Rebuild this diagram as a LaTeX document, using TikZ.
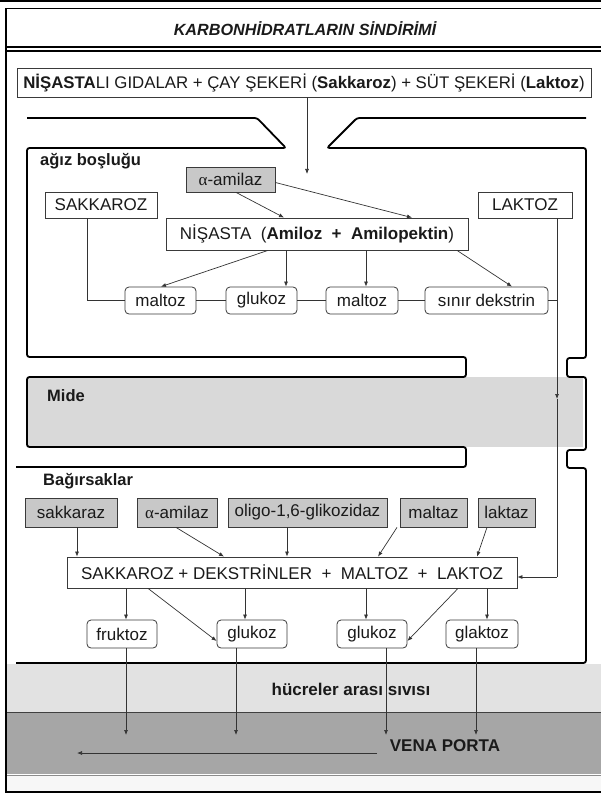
\documentclass[tikz,border=0pt]{standalone}
\usepackage{fontspec}
\setmainfont{Liberation Sans}
\newfontfamily\grk{Liberation Serif}
\usetikzlibrary{arrows.meta}
\definecolor{boxc}{HTML}{3A3A3A}
\definecolor{linec}{HTML}{333333}
\definecolor{txt}{HTML}{1A1A1A}
\definecolor{gfill}{HTML}{C8C8C8}
\definecolor{midec}{HTML}{D9D9D9}
\definecolor{lightband}{HTML}{E2E2E2}
\definecolor{darkband}{HTML}{A6A6A6}
\definecolor{stripc}{HTML}{F7F7F7}
\begin{document}
\begin{tikzpicture}[x=1pt,y=-1pt,
  font=\fontsize{17}{20}\selectfont,
  bx/.style={draw=boxc, line width=0.8pt, fill=white, inner sep=0pt, text=txt},
  gbx/.style={bx, fill=gfill},
  rbx/.style={bx, rounded corners=4pt},
  wall/.style={line width=1.8pt, rounded corners=2.5pt, draw=black},
  arr/.style={draw=linec, line width=0.7pt, -{Latex[length=5pt,width=4pt]}},
  ln/.style={draw=linec, line width=0.7pt},
  lbl/.style={font=\fontsize{16.5}{19}\selectfont\bfseries, text=txt, inner sep=0pt}]
\useasboundingbox (0,0) rectangle (601,794);
% backgrounds
\fill[midec] (27,377) rectangle (583,447);
\fill[lightband] (6,664) rectangle (601,712);
\fill[darkband] (6,712) rectangle (601,774);
\fill[stripc] (6,776) rectangle (601,791);
\draw[black!75, line width=1pt] (6,712) -- (601,712);
\draw[black!45, line width=0.8pt] (6,775.5) -- (601,775.5);
% frame
\draw[line width=2pt] (0,1) -- (601,1);
\draw[line width=1.7pt] (601,8.5) -- (6,8.5) -- (6,792) -- (601,792);
\draw[line width=1.2pt] (6,47) -- (601,47);
\draw[line width=1.2pt] (6,51) -- (601,51);
\node[font=\fontsize{16.2}{19}\selectfont\bfseries\itshape, text=txt] (title) at (305,29) {KARBONHİDRATLARIN SİNDİRİMİ};
% food box
\node[bx, minimum width=574pt, minimum height=29pt, font=\fontsize{16.8}{20}\selectfont] (food) at (304,82.5)
  {\textbf{NİŞASTA}LI GIDALAR + ÇAY ŞEKERİ (\textbf{Sakkaroz}) + SÜT ŞEKERİ (\textbf{Laktoz})};
\coordinate (mouthin) at (307,174);
\draw[arr] (food.south -| mouthin) -- (mouthin);
% walls
\draw[wall] (27,118) -- (257,118) -- (286,148) -- (27,148) -- (27,357) -- (466,357) -- (466,377)
  -- (27,377) -- (27,447) -- (466,447) -- (466,467) -- (16,467);
\draw[wall] (586,118) -- (357,118) -- (327,148) -- (586,148) -- (586,358) -- (567,358) -- (567,377)
  -- (586,377) -- (586,450) -- (567,450) -- (567,468) -- (586,468) -- (586,663) -- (16,663);
% labels
\node[lbl, anchor=west] (agiz) at (40,161) {ağız boşluğu};
\node[lbl, anchor=west] (mide) at (47,396) {Mide};
\node[lbl, anchor=west] (bag) at (43,481) {Bağırsaklar};
\node[lbl, font=\fontsize{17}{20}\selectfont\bfseries] (hucre) at (351,689) {hücreler arası sıvısı};
\node[lbl, font=\fontsize{17}{20}\selectfont\bfseries] (vena) at (445,746) {VENA PORTA};
% mouth nodes
\node[gbx, minimum width=89pt, minimum height=25pt] (amilA) at (230.5,179.5) {{\grk α}-amilaz};
\node[bx, minimum width=112pt, minimum height=26pt] (sakA) at (101,205) {SAKKAROZ};
\node[bx, minimum width=94pt, minimum height=26pt] (lakA) at (525,205) {LAKTOZ};
\node[bx, minimum width=302pt, minimum height=32pt] (nis) at (317,234)
  {NİŞASTA~ (\textbf{Amiloz} ~\textbf{+}~ \textbf{Amilopektin})};
\node[rbx, minimum width=71pt, minimum height=27pt] (malt1) at (160.5,300.5) {maltoz};
\node[rbx, minimum width=71pt, minimum height=27pt] (gluk1) at (261.5,300.5) {glukoz};
\node[rbx, minimum width=72pt, minimum height=27pt] (malt2) at (362,300.5) {maltoz};
\node[rbx, minimum width=123pt, minimum height=27pt] (dekst) at (486.5,300.5) {sınır dekstrin};
% helper x positions
\coordinate (xs) at (87,0);
\coordinate (xl) at (557,0);
\coordinate (xa1) at (236,0);
\coordinate (xa2) at (284,0);
\coordinate (xa3) at (412,0);
\coordinate (xn1) at (268,0);
\coordinate (xn2) at (161,0);
\coordinate (xn3) at (286,0);
\coordinate (xn4) at (366,0);
\coordinate (xn5) at (457,0);
\coordinate (xn6) at (512,0);
% mouth connectors
\draw[arr] (xa1 |- amilA.south) -- (xa2 |- nis.north);
\draw[arr] (amilA.east) ++(0,3) -- (xa3 |- nis.north);
\draw[arr] (xn1 |- nis.south) -- (xn2 |- malt1.north);
\draw[arr] (xn3 |- nis.south) -- (xn3 |- gluk1.north);
\draw[arr] (xn4 |- nis.south) -- (xn4 |- malt2.north);
\draw[arr] (xn5 |- nis.south) -- (xn6 |- dekst.north);
\draw[ln] (xs |- sakA.south) -- (xs |- malt1.west) -- (malt1.west);
\draw[ln] (malt1.east) -- (gluk1.west);
\draw[ln] (gluk1.east) -- (malt2.west);
\draw[ln] (malt2.east) -- (dekst.west);
\draw[ln] (dekst.east) -- (xl |- dekst.east);
% intestine nodes
\node[gbx, minimum width=92pt, minimum height=29pt] (sakz) at (71,512.5) {sakkaraz};
\node[gbx, minimum width=80pt, minimum height=29pt] (amilB) at (177,512.5) {{\grk α}-amilaz};
\node[gbx, minimum width=159pt, minimum height=29pt] (oligo) at (307.5,512.5) {oligo-1,6-glikozidaz};
\node[gbx, minimum width=67pt, minimum height=29pt] (maltaz) at (433.5,512.5) {maltaz};
\node[gbx, minimum width=57pt, minimum height=29pt] (laktaz) at (506.5,512.5) {laktaz};
\node[bx, minimum width=450pt, minimum height=31pt] (main) at (292,572.5)
  {SAKKAROZ + DEKSTRİNLER ~+~ MALTOZ ~+~ LAKTOZ};
\node[rbx, minimum width=70pt, minimum height=28pt] (fruk) at (122,634) {fruktoz};
\node[rbx, minimum width=70pt, minimum height=28pt] (gluk2) at (252,634) {glukoz};
\node[rbx, minimum width=70pt, minimum height=28pt] (gluk3) at (372,634) {glukoz};
\node[rbx, minimum width=72pt, minimum height=28pt] (glak) at (482,634) {glaktoz};
% lactose path through stomach
\coordinate (lkmid) at (557,399);
\coordinate (lkend) at (557,577);
\draw[arr] (xl |- lakA.south) -- (lkmid);
\draw[ln] (lkmid) -- (lkend);
\draw[arr] (lkend) -- (main.east |- lkend);
% intestine connectors
\coordinate (xi1) at (77,0);
\coordinate (xi2) at (176,0);
\coordinate (xi3) at (224,0);
\coordinate (xi4) at (287,0);
\coordinate (xi5) at (397,0);
\coordinate (xi6) at (378,0);
\coordinate (xi7) at (487,0);
\coordinate (xi8) at (477,0);
\draw[arr] (xi1 |- sakz.south) -- (xi1 |- main.north);
\draw[arr] (xi2 |- amilB.south) -- (xi3 |- main.north);
\draw[arr] (xi4 |- oligo.south) -- (xi4 |- main.north);
\draw[arr] (xi5 |- maltaz.south) -- (xi6 |- main.north);
\draw[arr] (xi7 |- laktaz.south) -- (xi8 |- main.north);
\coordinate (xo1) at (126,0);
\coordinate (xo2) at (148,0);
\coordinate (xo3) at (245,0);
\coordinate (xo4) at (366,0);
\coordinate (xo5) at (458,0);
\coordinate (xo6) at (487,0);
\draw[arr] (xo1 |- main.south) -- (xo1 |- fruk.north);
\draw[arr] (xo2 |- main.south) -- ([yshift=-7pt]gluk2.west);
\draw[arr] (xo3 |- main.south) -- (xo3 |- gluk2.north);
\draw[arr] (xo4 |- main.south) -- (xo4 |- gluk3.north);
\draw[arr] (xo5 |- main.south) -- ([yshift=-7pt]gluk3.east);
\draw[arr] (xo6 |- main.south) -- (xo6 |- glak.north);
% to vena porta
\coordinate (yv) at (0,735);
\coordinate (xv1) at (126,0);
\coordinate (xv2) at (236,0);
\coordinate (xv3) at (386,0);
\coordinate (xv4) at (476,0);
\draw[arr] (xv1 |- fruk.south) -- (xv1 |- yv);
\draw[arr] (xv2 |- gluk2.south) -- (xv2 |- yv);
\draw[arr] (xv3 |- gluk3.south) -- (xv3 |- yv);
\draw[arr] (xv4 |- glak.south) -- (xv4 |- yv);
\coordinate (vstart) at (377,753);
\coordinate (vend) at (77,753);
\draw[arr] (vstart) -- (vend);
\end{tikzpicture}
\end{document}
